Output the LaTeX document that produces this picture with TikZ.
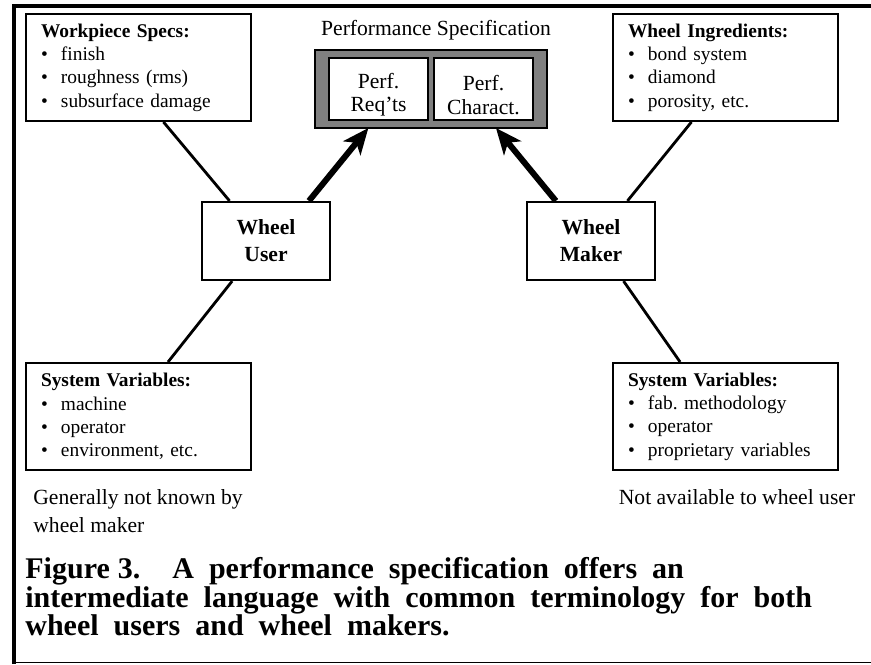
\documentclass[tikz,border=0pt]{standalone}
\usepackage{fontspec}
\setmainfont{Liberation Serif}
\newfontfamily\capfont[WordSpace=2]{Liberation Serif}
\usetikzlibrary{arrows.meta,calc}

\tikzset{
  listbox/.style={draw,line width=1pt,anchor=north west,inner xsep=7.5pt,
    text width=97.5pt,minimum height=53.5pt,align=left,
    font=\fontsize{9.7}{11.7}\selectfont},
  wheelbox/.style={draw,line width=1.1pt,minimum width=64pt,minimum height=39pt,
    align=center,font=\fontsize{10.8}{13.5}\selectfont\bfseries},
  perfbox/.style={draw,line width=1pt,fill=white,minimum width=49.5pt,
    minimum height=31pt,align=center,font=\fontsize{10.8}{12}\selectfont},
  link/.style={line width=1.4pt},
  bigarrow/.style={line width=3pt,-{Stealth[length=13pt,width=11pt,inset=3.5pt]}},
  note/.style={inner sep=0pt,align=left,font=\fontsize{10.8}{14}\selectfont},
  capline/.style={anchor=base west,inner sep=0pt,font=\fontsize{15}{14}\selectfont\capfont\bfseries}
}
\newcommand{\itm}[1]{\\\makebox[10pt][l]{\textbullet}#1}

\begin{document}
\begin{tikzpicture}[x=0.5pt,y=-0.5pt]
\useasboundingbox (0,0) rectangle (871,664);

% frame
\draw [line width=2.25pt] (14,664) -- (14,6) -- (871,6);
\draw [line width=0.75pt] (12,662.5) -- (871,662.5);

% performance specification
\node [font=\fontsize{10.8}{13}\selectfont] (ptitle) at (436,30) {Performance Specification};
\draw [fill=gray,line width=1pt] (315,50) rectangle (547,128);
\coordinate (psw) at (315,128);
\coordinate (pse) at (547,128);
\node [perfbox] (req) at (378.5,89) {\raisebox{-3pt}[\height][\depth]{\shortstack{Perf.\\[1pt]Req’ts}}};
\node [perfbox] (char) at (483.5,89) {\raisebox{-3pt}[\height][\depth]{\shortstack{Perf.\\[1pt]Charact.}}};

% spec boxes
\node [listbox] (ws) at (25,13) {\textbf{Workpiece Specs:}\itm{finish}\itm{roughness (rms)}\itm{subsurface damage}};
\node [listbox] (wi) at (612,13) {\textbf{Wheel Ingredients:}\itm{bond system}\itm{diamond}\itm{porosity, etc.}};
\node [listbox] (svu) at (25,362) {\textbf{System Variables:}\itm{machine}\itm{operator}\itm{environment, etc.}};
\node [listbox] (svm) at (612,362) {\textbf{System Variables:}\itm{fab.\ methodology}\itm{operator}\itm{proprietary variables}};

% wheel user and maker
\node [wheelbox] (user) at (266,241) {Wheel\\User};
\node [wheelbox] (maker) at (591,241) {Wheel\\Maker};

\draw [link] ($(ws.south west)!0.61!(ws.south east)$) -- ($(user.north west)!0.22!(user.north east)$);
\draw [link] ($(wi.south west)!0.35!(wi.south east)$) -- ($(maker.north west)!0.78!(maker.north east)$);
\draw [link] ($(user.south west)!0.24!(user.south east)$) -- ($(svu.north west)!0.63!(svu.north east)$);
\draw [link] ($(maker.south west)!0.75!(maker.south east)$) -- ($(svm.north west)!0.3!(svm.north east)$);

\draw [bigarrow] ($(user.north west)!0.83!(user.north east)$) -- ($(psw)!0.23!(pse)$);
\draw [bigarrow] ($(maker.north west)!0.23!(maker.north east)$) -- ($(psw)!0.78!(pse)$);

% notes
\node [note,anchor=west] (nu) at (33,511) {Generally not known by\\wheel maker};
\node [note] (nm) at (737,497) {Not available to wheel user};

% caption
\node [capline] (cap1) at (25,578) {Figure\hspace{4pt}3.\hspace{16pt}A performance specification offers an};
\node [capline] (cap2) at (25,607) {intermediate language with common terminology for both};
\node [capline] (cap3) at (25,635) {wheel users and wheel makers.};
\end{tikzpicture}
\end{document}
